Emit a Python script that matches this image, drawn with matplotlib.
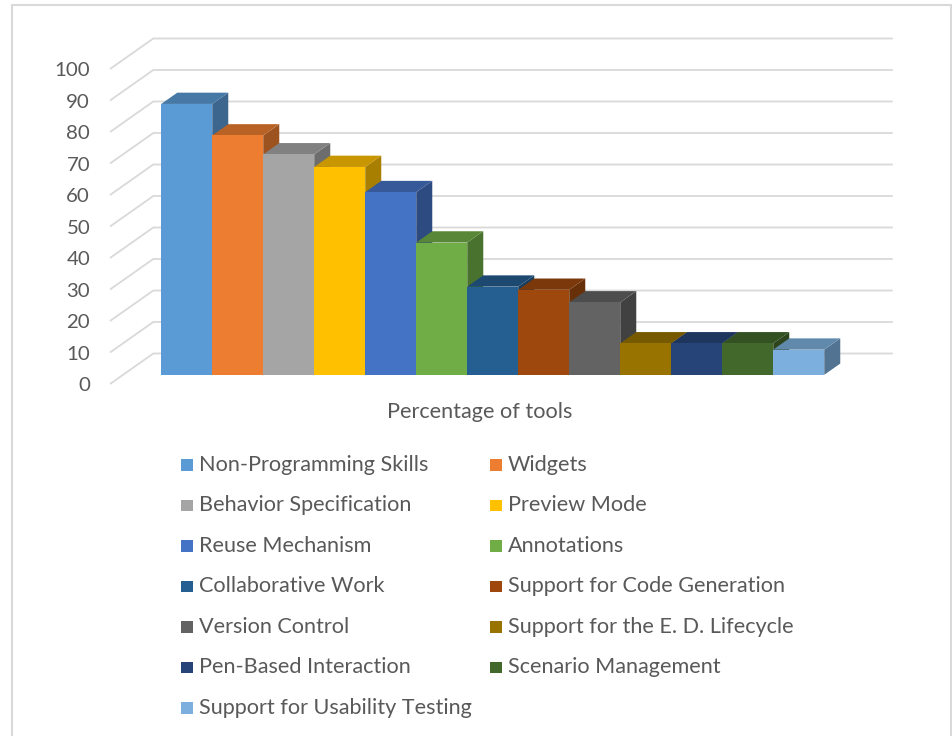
import matplotlib
matplotlib.use("Agg")
import matplotlib.pyplot as plt
from matplotlib.patches import Polygon, Rectangle
import matplotlib.colors as mcolors
import numpy as np

# ---------------- data ----------------
categories = ["Non-Programming Skills", "Widgets", "Behavior Specification",
              "Preview Mode", "Reuse Mechanism", "Annotations",
              "Collaborative Work", "Support for Code Generation",
              "Version Control", "Support for the E. D. Lifecycle",
              "Pen-Based Interaction", "Scenario Management",
              "Support for Usability Testing"]
values = [86, 76, 70, 66, 58, 42, 28, 27, 23, 10, 10, 10, 8]
colors = ["#5B9BD5", "#ED7D31", "#A5A5A5", "#FFC000", "#4472C4", "#70AD47",
          "#255E91", "#9E480E", "#636363", "#997300", "#264478", "#43682B",
          "#7CAFDD"]
y_ticks = [0, 10, 20, 30, 40, 50, 60, 70, 80, 90, 100]
axis_title = "Percentage of tools"

# ---------------- layout ----------------
W, H = 952, 736
fig = plt.figure(figsize=(W / 100, H / 100), dpi=100)
fig.patch.set_facecolor("white")

PX_X = 51.0    # pixels per category
PX_Y = 3.15    # pixels per value unit
X0 = 110.0     # pixel x of front-left corner of floor
Y0 = 384.0     # pixel y (from top) of value 0 on front plane

ax = fig.add_axes([0, 0, 1, 1])
ax.set_xlim(-X0 / PX_X, (W - X0) / PX_X)
ax.set_ylim(-(H - Y0) / PX_Y, Y0 / PX_Y)
ax.axis("off")

n = len(values)
gap = 0.75
floor_w = n + 2 * gap
DX = 43.3 / PX_X      # depth offset (x) for full depth
DY = 30.5 / PX_Y      # depth offset (y) for full depth
d0, d1 = 0.30, 0.67   # bar depth range

grid_c = "#D9D9D9"
text_c = "#595959"
family = "Lato"

renderer = fig.canvas.get_renderer()


def fit_size(s, target_px):
    t = fig.text(0, 0, s, fontsize=20, family=family)
    w = t.get_window_extent(renderer).width
    t.remove()
    return 20 * target_px / w


fs_leg = fit_size("Non-Programming Skills", 229)
fs_tick = fit_size("100", 35.5)
fs_title = fit_size(axis_title, 185)

# gridlines: side wall diagonal + back wall
for v in y_ticks:
    ax.plot([0, DX, floor_w + DX], [v, v + DY, v + DY], color=grid_c,
            lw=1.3, solid_capstyle="butt", zorder=1)
    ax.text(-0.39, v, str(v), ha="right", va="center_baseline",
            fontsize=fs_tick, color=text_c, family=family)


def shade(c, f):
    r, g, b = mcolors.to_rgb(c)
    return (r * f, g * f, b * f)


# bars (left to right so later bars hide earlier side faces)
for i, (v, c) in enumerate(zip(values, colors)):
    xl = gap + i
    xr = xl + 1
    side = Polygon([(xr + d0 * DX, d0 * DY), (xr + d1 * DX, d1 * DY),
                    (xr + d1 * DX, v + d1 * DY), (xr + d0 * DX, v + d0 * DY)],
                   closed=True, fc=shade(c, 0.66), ec="none", zorder=2)
    top = Polygon([(xl + d0 * DX, v + d0 * DY), (xr + d0 * DX, v + d0 * DY),
                   (xr + d1 * DX, v + d1 * DY), (xl + d1 * DX, v + d1 * DY)],
                  closed=True, fc=shade(c, 0.78), ec="none", zorder=2)
    front = Rectangle((xl + d0 * DX, d0 * DY), 1, v, fc=c, ec="none", zorder=2)
    for p in (side, top, front):
        ax.add_patch(p)

# axis title
ax.text(floor_w / 2, -8.8, axis_title, ha="center", va="center",
        fontsize=fs_title, color=text_c, family=family)

# legend (row-major, two columns)
col_marker_x = [181, 490]
col_text_x = [199, 508]
row_base_y0 = 470.7
row_step = 40.5
msz = 12
for k, (lab, c) in enumerate(zip(categories, colors)):
    r, col = divmod(k, 2)
    yb = row_base_y0 + r * row_step
    fig.patches.append(Rectangle((col_marker_x[col] / W, 1 - yb / H),
                                 msz / W, (msz - 0.5) / H, fc=c, ec="none",
                                 transform=fig.transFigure, figure=fig))
    fig.text(col_text_x[col] / W, 1 - yb / H, lab, ha="left", va="baseline",
             fontsize=fs_leg, color=text_c, family=family)

# chart border
fig.patches.append(Rectangle((12 / W, -0.05), (950.5 - 12) / W, 1.05 - 5 / H,
                             fill=False, ec="#D9D9D9", lw=1.5,
                             transform=fig.transFigure, figure=fig))

fig.savefig("out.png", dpi=100, facecolor="white")
